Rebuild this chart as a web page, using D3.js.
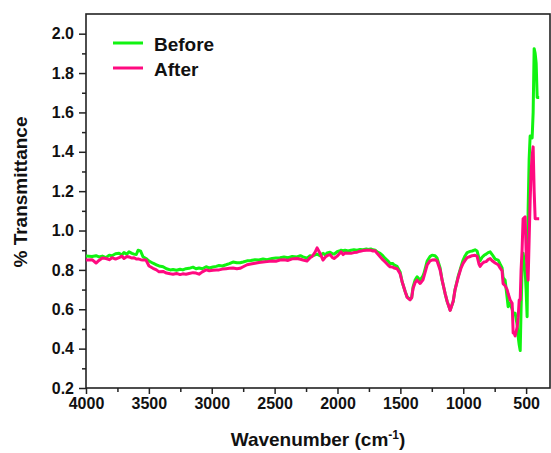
<!DOCTYPE html>
<html>
<head>
<meta charset="utf-8">
<script src="https://cdn.jsdelivr.net/npm/d3@7"></script>
<style>
  body { margin: 0; background: #fff; }
  text { font-family: "Liberation Sans", Arial, sans-serif; font-weight: bold; fill: #111; }
</style>
</head>
<body>
<div id="chart"></div>
<script>
var w = 551
var h = 453

// DATA ****************************************
// wavenumber (cm-1)
var wavenumbers = [4000, 3952, 3920, 3897, 3870, 3841, 3815, 3793, 3765, 3737, 3715, 3698, 3675, 3658, 3635, 3618, 3600, 3586, 3565, 3547,
  3523, 3499, 3467, 3440, 3419, 3387, 3360, 3330, 3308, 3280, 3252, 3230, 3205, 3180, 3149, 3125, 3101, 3075, 3045, 3020,
  2990, 2965, 2942, 2915, 2886, 2860, 2831, 2800, 2775, 2750, 2719, 2690, 2656, 2625, 2592, 2560, 2520, 2490, 2457, 2425,
  2393, 2360, 2322, 2295, 2274, 2242, 2218, 2202, 2178, 2162, 2139, 2115, 2095, 2083, 2059, 2040, 2027, 2003, 1985, 1971,
  1955, 1940, 1915, 1892, 1870, 1844, 1820, 1796, 1770, 1757, 1735, 1717, 1700, 1685, 1661, 1640, 1621, 1600, 1582, 1560,
  1550, 1526, 1502, 1486, 1462, 1446, 1423, 1410, 1399, 1383, 1367, 1343, 1320, 1311, 1287, 1264, 1248, 1224, 1208, 1184,
  1168, 1144, 1128, 1104, 1080, 1065, 1041, 1017, 1001, 985, 969, 945, 929, 906, 890, 875, 866, 850, 834, 818,
  802, 786, 770, 746, 722, 707, 691, 683, 667, 651, 643, 627, 611, 603, 595, 587, 571, 563, 555, 547,
  540, 532, 524, 516, 508, 500, 492, 484, 476, 468, 460, 452, 444, 436, 428, 420, 412, 396]

var before = [0.870, 0.868, 0.872, 0.866, 0.870, 0.862, 0.875, 0.872, 0.882, 0.885, 0.876, 0.888, 0.880, 0.892, 0.884, 0.880, 0.878, 0.900, 0.895, 0.867,
  0.858, 0.845, 0.834, 0.826, 0.820, 0.816, 0.806, 0.800, 0.802, 0.798, 0.803, 0.800, 0.806, 0.808, 0.814, 0.806, 0.810, 0.806, 0.816, 0.810,
  0.815, 0.818, 0.822, 0.820, 0.826, 0.832, 0.840, 0.836, 0.836, 0.840, 0.846, 0.848, 0.852, 0.850, 0.855, 0.852, 0.858, 0.860, 0.862, 0.866,
  0.862, 0.868, 0.866, 0.872, 0.866, 0.860, 0.872, 0.870, 0.876, 0.880, 0.872, 0.884, 0.876, 0.886, 0.890, 0.882, 0.880, 0.892, 0.896, 0.900,
  0.898, 0.900, 0.896, 0.900, 0.902, 0.900, 0.904, 0.902, 0.906, 0.904, 0.906, 0.902, 0.900, 0.892, 0.884, 0.872, 0.858, 0.846, 0.833, 0.832,
  0.825, 0.818, 0.790, 0.740, 0.690, 0.663, 0.650, 0.660, 0.714, 0.748, 0.765, 0.748, 0.770, 0.785, 0.845, 0.868, 0.875, 0.872, 0.860, 0.810,
  0.748, 0.680, 0.640, 0.596, 0.640, 0.700, 0.765, 0.818, 0.850, 0.872, 0.888, 0.894, 0.896, 0.902, 0.896, 0.860, 0.846, 0.864, 0.874, 0.880,
  0.888, 0.892, 0.878, 0.855, 0.850, 0.830, 0.810, 0.760, 0.748, 0.660, 0.613, 0.630, 0.600, 0.580, 0.579, 0.580, 0.520, 0.460, 0.420, 0.390,
  0.600, 0.800, 0.885, 0.850, 0.800, 0.700, 0.562, 1.100, 1.360, 1.480, 1.480, 1.470, 1.600, 1.924, 1.900, 1.850, 1.676, 1.676]

var after = [0.850, 0.852, 0.835, 0.848, 0.860, 0.858, 0.852, 0.862, 0.855, 0.862, 0.870, 0.858, 0.868, 0.866, 0.860, 0.862, 0.855, 0.856, 0.852, 0.850,
  0.850, 0.820, 0.808, 0.800, 0.790, 0.792, 0.784, 0.780, 0.778, 0.782, 0.776, 0.780, 0.778, 0.782, 0.786, 0.784, 0.778, 0.790, 0.800, 0.796,
  0.798, 0.800, 0.800, 0.804, 0.806, 0.808, 0.810, 0.806, 0.808, 0.816, 0.826, 0.830, 0.834, 0.838, 0.840, 0.842, 0.845, 0.844, 0.850, 0.852,
  0.848, 0.856, 0.858, 0.854, 0.850, 0.845, 0.862, 0.868, 0.890, 0.912, 0.885, 0.850, 0.866, 0.872, 0.878, 0.862, 0.858, 0.870, 0.882, 0.892,
  0.878, 0.886, 0.884, 0.884, 0.888, 0.890, 0.895, 0.898, 0.900, 0.900, 0.900, 0.896, 0.897, 0.884, 0.867, 0.852, 0.840, 0.826, 0.816, 0.814,
  0.810, 0.806, 0.780, 0.740, 0.690, 0.660, 0.648, 0.658, 0.705, 0.735, 0.748, 0.731, 0.750, 0.770, 0.825, 0.846, 0.850, 0.852, 0.845, 0.800,
  0.748, 0.680, 0.640, 0.594, 0.640, 0.700, 0.760, 0.810, 0.833, 0.848, 0.862, 0.868, 0.872, 0.874, 0.870, 0.830, 0.818, 0.832, 0.840, 0.842,
  0.852, 0.858, 0.846, 0.835, 0.826, 0.810, 0.795, 0.730, 0.720, 0.700, 0.680, 0.647, 0.630, 0.480, 0.477, 0.465, 0.510, 0.560, 0.647, 0.647,
  0.800, 0.900, 1.060, 1.065, 1.070, 0.900, 0.800, 0.748, 0.950, 1.150, 1.300, 1.380, 1.425, 1.200, 1.060, 1.060, 1.060, 1.060]

var seriesNames = ["Before", "After"]
var seriesColors = ["#11f311", "#ff0a80"]

var xMajorTicks = [4000, 3500, 3000, 2500, 2000, 1500, 1000, 500]
var xMinorTicks = [3750, 3250, 2750, 2250, 1750, 1250, 750]
var yMajorTicks = [0.2, 0.4, 0.6, 0.8, 1.0, 1.2, 1.4, 1.6, 1.8, 2.0]
var yMinorTicks = [0.3, 0.5, 0.7, 0.9, 1.1, 1.3, 1.5, 1.7, 1.9]

// SET-UP ***************************************
// (don't call it "top", that's window.top)
var plot = {left: 86, top: 14, right: 550, bottom: 388}

var svg = d3.select("#chart").append("svg")
    .attr("width", w)
    .attr("height", h)

var x = d3.scaleLinear().domain([4000, 310]).range([plot.left, plot.right])
var y = d3.scaleLinear().domain([0.2, 2.1]).range([plot.bottom, plot.top])

// axes (ticks outward)
svg.append("g")
    .attr("transform", "translate(0," + plot.bottom + ")")
    .call(d3.axisBottom(x).tickValues(xMajorTicks).tickSize(6).tickPadding(4).tickFormat(d3.format("d")))
svg.append("g")
    .attr("transform", "translate(0," + plot.bottom + ")")
    .call(d3.axisBottom(x).tickValues(xMinorTicks).tickSize(4).tickFormat(""))

svg.append("g")
    .attr("transform", "translate(" + plot.left + ",0)")
    .call(d3.axisLeft(y).tickValues(yMajorTicks).tickSize(7).tickPadding(5).tickFormat(d3.format(".1f")))
svg.append("g")
    .attr("transform", "translate(" + plot.left + ",0)")
    .call(d3.axisLeft(y).tickValues(yMinorTicks).tickSize(4).tickFormat(""))

svg.selectAll(".domain").remove()
svg.selectAll(".tick line").attr("stroke", "#222").attr("stroke-width", 1.5)
svg.selectAll(".tick text").style("font-size", "16px").style("font-family", "Liberation Sans, Arial, sans-serif").style("font-weight", "bold").attr("fill", "#111")

// frame
svg.append("rect")
    .attr("x", plot.left).attr("y", plot.top)
    .attr("width", plot.right - plot.left).attr("height", plot.bottom - plot.top)
    .attr("fill", "none")
    .attr("stroke", "#222")
    .attr("stroke-width", 1.6)

// lines, green first so pink sits on top
var series = [before, after]
var line = d3.line()
    .x(function(d, i){ return x(wavenumbers[i]) })
    .y(function(d){ return y(d) })

series.forEach(function(s, k){
    svg.append("path")
        .attr("d", line(s))
        .attr("fill", "none")
        .attr("stroke", seriesColors[k])
        .attr("stroke-width", 3)
        .attr("stroke-linejoin", "round")
})

// legend
seriesNames.forEach(function(name, k){
    var ly = 43 + k * 25
    svg.append("line")
        .attr("x1", 113).attr("x2", 143)
        .attr("y1", ly).attr("y2", ly)
        .attr("stroke", seriesColors[k])
        .attr("stroke-width", 3)
    svg.append("text")
        .attr("x", 154).attr("y", ly + 8)
        .style("font-size", "19px")
        .text(name)
})

// axis titles
var xt = svg.append("text")
    .attr("x", (plot.left + plot.right) / 2)
    .attr("y", 446)
    .attr("text-anchor", "middle")
    .style("font-size", "19px")
xt.append("tspan").text("Wavenumber (cm")
xt.append("tspan").attr("dy", -7).style("font-size", "12px").text("-1")
xt.append("tspan").attr("dy", 7).text(")")

svg.append("text")
    .attr("transform", "translate(27,192) rotate(-90)")
    .attr("text-anchor", "middle")
    .style("font-size", "19px")
    .text("% Transmittance")
</script>
</body>
</html>
